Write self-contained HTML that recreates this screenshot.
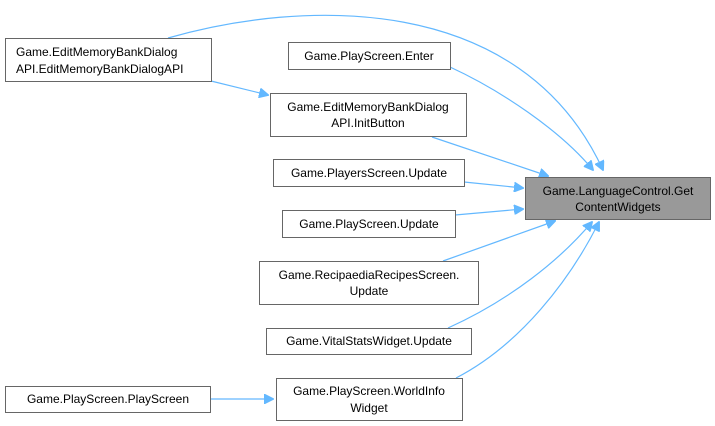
<!DOCTYPE html>
<html><head><style>body{margin:0;background:#fff}svg{display:block}</style></head><body>
<svg width="715" height="426" viewBox="0 0 715 426" font-family="Liberation Sans, sans-serif" font-size="12">
<defs><marker id="a" markerWidth="10" markerHeight="10" refX="9" refY="5" orient="auto" markerUnits="userSpaceOnUse"><path d="M0,0 L10,5 L0,10 Z" fill="#63b8ff" stroke="#63b8ff"/></marker></defs>
<g fill="none" stroke="#63b8ff" stroke-width="1.2" marker-end="url(#a)">
<path d="M168,38 C300,0 520,-10 603,170"/>
<path d="M450,67 C500,90 560,130 593,170"/>
<path d="M211,81 L268,95"/>
<path d="M432,137 L548,176"/>
<path d="M464,182 L523,188"/>
<path d="M455,215 L523,209"/>
<path d="M443,261 L555,221"/>
<path d="M448,328 C510,300 560,260 592,222"/>
<path d="M456,378 C520,345 570,280 599,222"/>
<path d="M210,399 L273,399"/>
</g>
<g fill="#fff" stroke="#666">
<rect x="5.5" y="38.5" width="206" height="43"/>
<rect x="288.5" y="42.5" width="162" height="27"/>
<rect x="270.5" y="93.5" width="196" height="43"/>
<rect x="273.5" y="159.5" width="191" height="27"/>
<rect x="282.5" y="210.5" width="173" height="27"/>
<rect x="259.5" y="261.5" width="219" height="43"/>
<rect x="266.5" y="328.5" width="205" height="26"/>
<rect x="276.5" y="378.5" width="186" height="42"/>
<rect x="5.5" y="386.5" width="205" height="26"/>
<rect x="525.5" y="177.5" width="185" height="42" fill="#999"/>
</g>
<g fill="#000">
<text x="16" y="56">Game.EditMemoryBankDialog</text>
<text x="16" y="73">API.EditMemoryBankDialogAPI</text>
<text x="369" y="60" text-anchor="middle">Game.PlayScreen.Enter</text>
<text x="368" y="111" text-anchor="middle">Game.EditMemoryBankDialog</text>
<text x="368" y="127" text-anchor="middle">API.InitButton</text>
<text x="369" y="177" text-anchor="middle">Game.PlayersScreen.Update</text>
<text x="369" y="228" text-anchor="middle">Game.PlayScreen.Update</text>
<text x="369" y="279" text-anchor="middle">Game.RecipaediaRecipesScreen.</text>
<text x="369" y="295" text-anchor="middle">Update</text>
<text x="369" y="345" text-anchor="middle">Game.VitalStatsWidget.Update</text>
<text x="369" y="395" text-anchor="middle">Game.PlayScreen.WorldInfo</text>
<text x="369" y="412" text-anchor="middle">Widget</text>
<text x="108" y="403" text-anchor="middle">Game.PlayScreen.PlayScreen</text>
<text x="618" y="195" text-anchor="middle">Game.LanguageControl.Get</text>
<text x="618" y="211" text-anchor="middle">ContentWidgets</text>
</g>
</svg>
</body></html>
